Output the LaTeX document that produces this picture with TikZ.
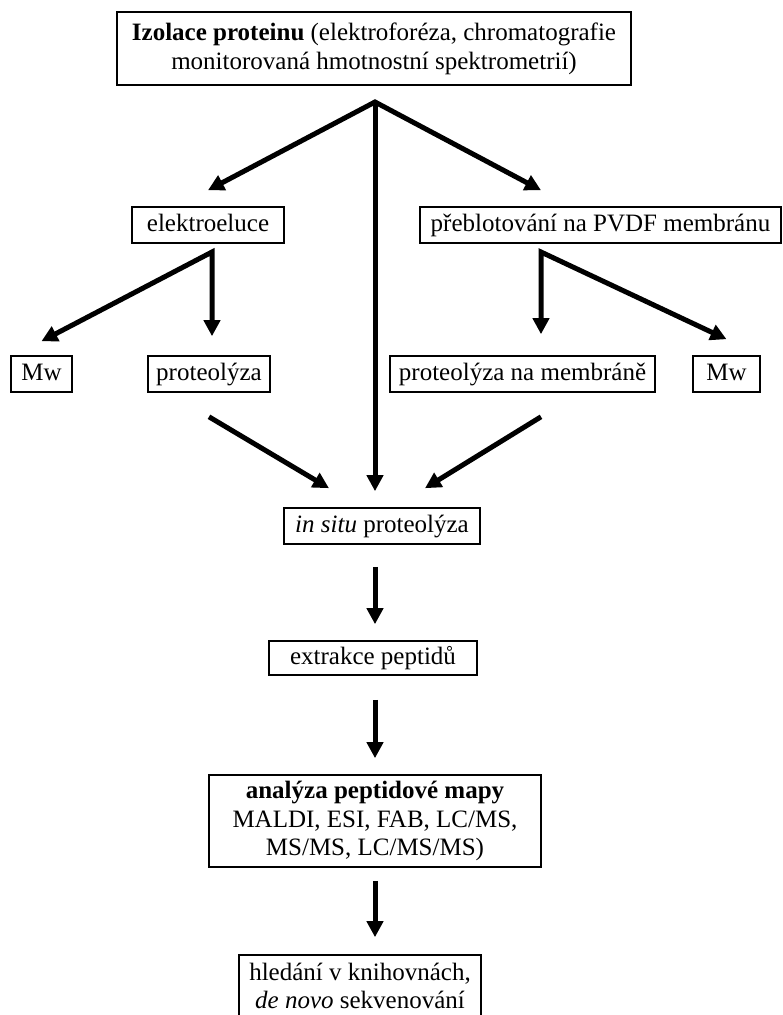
\documentclass[tikz,border=0pt]{standalone}
\usepackage{fontspec}
\setmainfont{Liberation Serif}
\usetikzlibrary{arrows.meta}

\begin{document}
\begin{tikzpicture}[
    x=1pt, y=-1pt,
    box/.style={draw, line width=1.6pt, font=\fontsize{25}{28.75}\selectfont, minimum height=36pt, text height=18pt, text depth=6pt, inner sep=0pt},
    multibox/.style={draw, line width=1.6pt, font=\fontsize{25}{28.75}\selectfont, align=center, inner sep=0pt},
    arrow/.style={line width=5pt, -{Triangle[length=16pt, width=16pt]}},
    fork/.style={line width=5pt, {Triangle[length=16pt, width=16pt]}-{Triangle[length=16pt, width=16pt]}}
]
    \useasboundingbox (0,0) rectangle (783,1015);

    % Nodes
    \node[multibox, minimum width=514pt, minimum height=73pt] (iso) at (374,48.5) {\textbf{Izolace proteinu} (elektroforéza, chromatografie\\monitorovaná hmotnostní spektrometrií)};
    \node[box, minimum width=152pt] (elektro) at (208,225) {elektroeluce};
    \node[box, minimum width=361pt] (blot) at (600.5,225) {přeblotování na PVDF membránu};
    \node[box, minimum width=61pt] (mwA) at (41.5,374) {Mw};
    \node[box, minimum width=122pt] (proteo) at (209,374) {proteolýza};
    \node[box, minimum width=265pt] (membr) at (522.5,374) {proteolýza na membráně};
    \node[box, minimum width=67pt] (mwB) at (726.5,374) {Mw};
    \node[box, minimum width=196pt] (insitu) at (382,526) {\textit{in situ} proteolýza};
    \node[box, minimum width=208pt, minimum height=34pt] (extr) at (373,658) {extrakce peptidů};
    \node[multibox, minimum width=332pt, minimum height=92pt] (mapa) at (375,821) {\textbf{analýza peptidové mapy}\\MALDI, ESI, FAB, LC/MS,\\MS/MS, LC/MS/MS)};
    \node[multibox, minimum width=242pt, minimum height=62pt] (hledani) at (360,986) {hledání v knihovnách,\\\textit{de novo} sekvenování};

    % Fork points
    \coordinate (split) at (375,102);
    \coordinate (forkA) at (212,252);
    \coordinate (forkB) at (541,252);

    % Edges
    \draw[fork] ([yshift=16pt]elektro.north) -- (split) -- ([xshift=-59.5pt, yshift=16pt]blot.north);
    \draw[arrow, shorten >=16pt] (split) -- (split |- insitu.north);
    \draw[fork, shorten >=19pt] ([yshift=14pt]mwA.north) -- (forkA) -- (forkA |- proteo.north);
    \draw[fork, shorten <=21pt] (forkB |- membr.north) -- (forkB) -- ([yshift=16pt]mwB.north);
    \draw[arrow] ([yshift=-24pt]proteo.south) -- ([xshift=-53pt, yshift=19pt]insitu.north);
    \draw[arrow] ([xshift=18.5pt, yshift=-24pt]membr.south) -- ([xshift=43pt, yshift=19pt]insitu.north);
    \draw[arrow, shorten <=22pt, shorten >=16pt] (insitu.south -| split) -- (extr.north -| split);
    \draw[arrow, shorten <=24pt, shorten >=16pt] (extr.south -| split) -- (mapa.north -| split);
    \draw[arrow, shorten <=13pt, shorten >=17pt] (mapa.south) -- (mapa.south |- hledani.north);
\end{tikzpicture}
\end{document}
